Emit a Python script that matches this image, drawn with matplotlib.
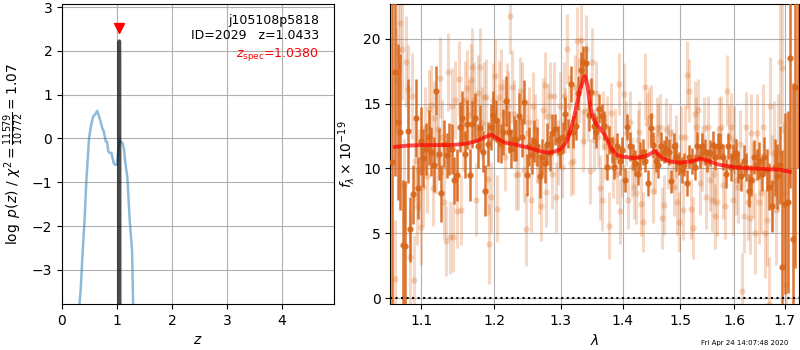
import numpy as np
import matplotlib
matplotlib.use('Agg')
import matplotlib.pyplot as plt
from matplotlib.ticker import FixedLocator, ScalarFormatter, NullLocator

# photo-z probability, log p(z)
pz_z = [0.31, 0.34, 0.38, 0.414, 0.444, 0.493, 0.53, 0.566, 0.61, 0.64, 0.67, 0.70,
        0.73, 0.76, 0.797, 0.82, 0.84, 0.87, 0.90, 0.94, 0.97, 1.00, 1.03, 1.05,
        1.065, 1.10, 1.127, 1.152, 1.19, 1.234, 1.262, 1.276, 1.295, 1.31]
pz_logp = [-3.9, -3.45, -2.5, -1.78, -0.94, 0.01, 0.3, 0.50, 0.56, 0.63, 0.52, 0.40,
           0.25, 0.16, -0.07, -0.07, -0.29, -0.33, -0.33, -0.56, -0.60, -0.60, -0.2, -0.05,
           -0.07, -0.10, -0.23, -0.55, -0.9, -1.9, -2.35, -2.6, -3.8, -5.0]

# grism redshift fit, narrow peak
zgr_z = [1.036, 1.040, 1.0433, 1.047, 1.051]
zgr_logp = [-6.0, 1.9, 2.22, 1.9, -6.0]

z_spec = 1.0380
z_best = 1.0433
obj_id = 2029
root = 'j105108p5818'
chi2_num, chi2_den = 11579, 10772

# binned spectrum, deep extraction (flux, err in 1e-19)
dark_flux = [10.5, 17.4, 13.6, 12.8, 4.1, 4.0, 12.9, 5.3, 8.0, 13.9,
             8.5, 12.1, 10.8, 11.5, 12.4, 11.3, 10.3, 16.0, 11.1, 8.1,
             11.9, 11.0, 11.5, 11.5, 9.1, 9.5, 13.2, 13.9, 11.1, 13.4, 9.5,
             13.4, 13.9, 11.7, 13.1, 11.3, 8.3, 11.9, 13.2, 14.1, 13.7,
             12.2, 11.9, 12.8, 15.2, 12.8, 11.5, 12.3, 12.2, 14.0, 12.4,
             15.1, 9.5, 11.7, 11.0, 12.1, 11.7, 9.4, 10.9, 10.4, 11.9, 11.2, 12.7,
             13.0, 12.2, 11.3, 12.4, 14.2, 12.7, 16.5, 12.8, 13.3, 15.8,
             17.6, 18.2, 18.1, 14.1, 15.9, 13.3, 12.8, 14.6, 14.0, 13.3,
             10.1, 12.2, 11.4, 10.1, 11.7, 10.6, 11.4, 9.1, 13.2, 11.7, 10.9,
             10.4, 9.6, 10.9, 11.3, 10.6, 8.9, 13.1, 11.8, 10.6, 10.3,
             11.7, 11.3, 11.5, 11.3, 9.0, 11.7, 10.9, 10.4, 9.9, 10.3,
             8.9, 10.9, 10.6, 10.1, 11.7, 10.9, 11.7, 11.3, 10.6, 11.2, 11.8, 10.9, 11.7,
             11.7, 10.9, 9.6, 11.7, 10.1, 10.9, 11.2, 10.1, 9.4, 10.6,
             10.1, 8.3, 9.1, 10.9, 10.3, 10.6, 9.6, 10.9, 9.9, 8.6,
             7.1, 10.1, 9.4, 10.3, 2.4, 7.3, 7.4, 18.5, 4.6, 16.3, 24.0]
dark_err = [14, 8, 6, 6, 5, 5, 4, 2.5, 2.3, 3.0,
            2.4, 2.6, 2.2, 2.0, 2.1, 1.9, 2.1, 1.9, 2.0, 2.2,
            1.8, 1.7, 2.0, 1.9, 1.8, 2.0, 1.9, 2.1, 1.8, 1.9, 2.0,
            1.8, 1.9, 1.7, 1.8, 1.6, 2.0, 1.7, 1.8, 1.9, 1.6,
            1.7, 1.5, 1.8, 1.9, 1.6, 1.5, 1.7, 1.6, 1.8, 1.5,
            1.7, 1.6, 1.5, 1.4, 1.6, 1.5, 1.7, 1.4, 1.5, 1.6, 1.4, 1.5,
            1.2, 1.1, 1.3, 1.2, 1.3, 1.1, 1.4, 1.2, 1.1, 1.3,
            1.4, 1.2, 1.3, 1.2, 1.1, 1.0, 1.2, 1.1, 1.0, 1.1,
            1.0, 1.1, 1.0, 0.9, 1.0, 1.1, 1.0, 0.9, 1.0, 1.1, 1.0,
            1.0, 0.9, 1.1, 1.0, 0.9, 1.0, 1.2, 1.0, 0.9, 1.0,
            1.1, 0.9, 1.0, 1.0, 0.9, 1.0, 1.1, 0.9, 1.0, 0.9,
            1.0, 0.9, 1.0, 1.0, 1.1, 0.9, 1.0, 1.0, 0.9, 1.0, 1.1, 1.0, 1.0,
            1.0, 1.0, 1.1, 1.0, 1.1, 1.0, 1.1, 1.2, 1.1, 1.2,
            1.1, 1.3, 1.2, 1.3, 1.2, 1.4, 1.3, 1.5, 1.6, 1.8,
            2.0, 2.2, 2.5, 3.0, 9.0, 7.0, 7.0, 10.0, 12.0, 14.0, 14.0]
dark_range = (1.0625, 1.7266)

# individual exposures
light_flux = [1.5, 16.8, 19.1, 21.2, 19.2, 8.7, 18.2, 16.1, 3.2, 15.6,
              1.4, 10.6, 7.1, 9.9, 5.5, 8.6, 13.1, 9.4, 14.6, 14.9,
              8.5, 13.9, 11.0, 13.0, 17.0, 12.4, 7.4, 4.4, 17.4, 4.7,
              14.8, 4.7, 15.3, 6.7, 16.9, 6.8, 12.6, 15.3, 16.2, 14.1,
              16.8, 17.8, 15.3, 7.6,
              15.8, 17.8, 13.5, 15.5, 15.5, 9.2, 4.2, 7.8, 15.3, 17.1,
              6.9, 15.5, 16.3, 14.2, 10.9, 15.3, 14.8, 21.7, 16.3, 14.2,
              9.5, 9.6, 16.0, 15.5, 9.9, 5.3, 12.7, 13.6, 7.6, 14.8,
              13.0, 11.4, 9.1, 7.1, 14.5, 16.4, 8.2, 14.0, 15.6, 9.6,
              15.6, 7.8, 11.2, 14.8, 10.1, 15.6, 13.7, 19.2, 14.8, 10.4,
              10.6, 16.3, 19.8, 16.0, 19.9, 12.1, 14.4, 19.2, 14.5, 9.8,
              18.2, 12.2, 15.8, 12.4, 8.5, 7.6, 13.7, 11.7, 13.2, 5.6,
              14.3, 10.1, 12.1, 9.6, 16.5, 6.7, 10.1, 15.7, 12.7, 7.6,
              13.6, 10.1, 8.6, 8.1, 12.2, 12.8, 7.3, 5.9, 16.3, 13.5,
              13.9, 14.0, 8.3, 10.3, 13.1, 12.7, 13.2, 6.2, 7.2, 13.0,
              10.9, 12.7, 10.6, 8.6, 11.7, 7.4, 5.9, 12.4, 6.8, 12.4,
              17.2, 16.0, 6.9, 5.4, 14.2, 13.2, 14.5, 8.9, 10.6, 13.1,
              7.8, 13.2,
              9.1, 7.6, 9.6, 6.3, 7.4, 13.0, 13.2, 8.7, 7.1, 16.0,
              12.4, 13.2, 7.6, 12.2, 9.1, 8.6, 11.9, 0.6, 6.3, 13.2,
              7.4, 6.2, 12.7, 9.1, 5.0, 12.7, 7.4, 8.1, 13.2, 5.0,
              6.0, -0.4, 14.8, 8.9, 11.2, 6.8, 11.2, 18.2, 17.7, 8.1, 1.0]
light_err = [4.5, 4.0, 4.2, 3.8, 3.9, 3.6, 3.5, 3.4, 3.6, 3.3,
             3.5, 3.2, 3.0, 3.1, 2.9, 3.0, 3.2, 2.8, 3.0, 3.1,
             2.9, 2.8, 3.0, 2.7, 3.1, 2.9, 2.8, 2.7, 3.0, 2.8,
             2.9, 2.7, 3.0, 2.8, 2.9, 2.7, 2.8, 3.0, 2.9, 2.7,
             2.8, 3.0, 2.9, 2.8,
             2.9, 3.0, 2.8, 2.7, 2.9, 2.8, 3.1, 2.7, 2.8, 2.9,
             2.6, 2.8, 2.9, 2.7, 2.6, 2.8, 2.7, 2.9, 2.8, 2.6,
             2.7, 2.8, 2.6, 2.7, 2.5, 2.8, 2.6, 2.7, 2.5, 2.6,
             2.7, 2.5, 2.6, 2.7, 2.5, 2.6, 2.7, 2.5, 2.6, 2.7,
             2.6, 2.7, 2.5, 2.6, 2.4, 2.6, 2.5, 2.7, 2.4, 2.5,
             2.6, 2.4, 2.6, 2.5, 2.7, 2.4, 2.5, 2.6, 2.4, 2.5,
             2.6, 2.4, 2.5, 2.3, 2.5, 2.4, 2.3, 2.5, 2.4, 2.6,
             2.3, 2.4, 2.5, 2.3, 2.4, 2.5, 2.3, 2.4, 2.5, 2.3,
             2.4, 2.3, 2.5, 2.4, 2.3, 2.4, 2.5, 2.3, 2.6, 2.4,
             2.3, 2.4, 2.5, 2.3, 2.4, 2.3, 2.5, 2.4, 2.3, 2.4,
             2.5, 2.3, 2.4, 2.3, 2.4, 2.5, 2.3, 2.4, 2.3, 2.5,
             2.6, 2.4, 2.3, 2.4, 2.5, 2.3, 2.4, 2.5, 2.3, 2.4,
             2.5, 2.4,
             2.4, 2.5, 2.4, 2.5, 2.6, 2.5, 2.4, 2.6, 2.5, 2.7,
             2.5, 2.6, 2.7, 2.6, 2.7, 2.8, 2.6, 2.9, 2.8, 2.7,
             2.9, 2.8, 3.0, 2.9, 3.1, 3.0, 3.2, 3.1, 3.3, 3.4,
             3.5, 3.6, 3.8, 3.7, 4.0, 4.2, 4.5, 4.8, 5.0, 5.5, 6.0]
light_range = (1.0653, 1.7016)

# best-fit template
model_wave = [1.066, 1.08, 1.10, 1.12, 1.14, 1.16, 1.175, 1.185, 1.196, 1.205,
              1.215, 1.23, 1.25, 1.27, 1.28, 1.29, 1.30, 1.305, 1.31, 1.315,
              1.32, 1.325, 1.33, 1.335, 1.338, 1.342, 1.346, 1.35, 1.355, 1.36,
              1.37, 1.38, 1.39, 1.40, 1.42, 1.44, 1.45, 1.455, 1.46, 1.47,
              1.48, 1.50, 1.52, 1.536, 1.55, 1.57, 1.60, 1.63, 1.66, 1.69, 1.71]
model_flux = [11.66, 11.75, 11.8, 11.8, 11.8, 11.9, 12.1, 12.35, 12.6, 12.3,
              12.0, 11.85, 11.6, 11.3, 11.2, 11.3, 11.5, 11.8, 12.2, 12.9,
              13.8, 14.9, 16.0, 16.8, 17.1, 16.4, 15.0, 14.0, 13.5, 13.2,
              12.6, 11.6, 11.05, 10.9, 10.8, 10.95, 11.2, 11.35, 11.1, 10.75,
              10.55, 10.45, 10.55, 10.75, 10.6, 10.3, 10.1, 10.0, 9.95, 9.9, 9.74]

wave_ticks = [1.1, 1.2, 1.3, 1.4, 1.5, 1.6, 1.7]
stamp = 'Fri Apr 24 14:07:48 2020'

# pixel grids (log-uniform sampling)
dark_wave = np.geomspace(dark_range[0], dark_range[1], len(dark_flux))
light_wave = np.geomspace(light_range[0], light_range[1], len(light_flux))

fig = plt.figure(figsize=(8, 3.5), dpi=100)
ax1 = fig.add_axes([0.0775, 0.131, 0.34, 0.859])
ax2 = fig.add_axes([0.488, 0.131, 0.511, 0.859])

# --- p(z) panel
ax1.plot(pz_z, pz_logp, color='tab:blue', alpha=0.5, lw=1.8)
ax1.plot(zgr_z, zgr_logp, color='k', alpha=0.7, lw=2.6)
ax1.plot(z_spec, 2.52, marker='v', color='r', ms=7, ls='none')
ax1.set_xlim(0, 4.95)
ax1.set_ylim(-3.78, 3.08)
ax1.set_xticks([0, 1, 2, 3, 4])
ax1.set_yticks([-3, -2, -1, 0, 1, 2, 3])
ax1.grid()
ax1.set_xlabel('$z$')
ax1.set_ylabel(r'$\log\ p(z)$' + ' / ' +
               r'$\chi^2=\frac{{{0}}}{{{1}}}={2:.2f}$'.format(chi2_num, chi2_den,
                                                               chi2_num / chi2_den))
ax1.text(0.945, 0.945, root, ha='right', va='center', transform=ax1.transAxes, fontsize=9)
ax1.text(0.945, 0.893, 'ID={0}   z={1:.4f}'.format(obj_id, z_best), ha='right', va='center',
         transform=ax1.transAxes, fontsize=9)
ax1.text(0.945, 0.830, r'$z_\mathrm{spec}$' + '={0:.4f}'.format(z_spec), ha='right',
         va='center', transform=ax1.transAxes, fontsize=9, color='r')

# --- spectrum panel
orange = '#d8661a'
ax2.errorbar(light_wave, light_flux, yerr=light_err, fmt='o', color=orange, alpha=0.25,
             ms=4.5, mec='none', elinewidth=2.2, capsize=0, zorder=2)
ax2.errorbar(dark_wave, dark_flux, yerr=dark_err, fmt='o', color=orange, alpha=0.9,
             ms=4.5, mec='none', elinewidth=1.8, capsize=0, zorder=3)
ax2.plot(model_wave, model_flux, color='r', alpha=0.7, lw=2.8, zorder=4)
ax2.axhline(0, color='k', ls=':', lw=1.5, zorder=5)

ax2.set_xscale('log')
ax2.set_xlim(1.06, 1.7294)
ax2.set_ylim(-0.45, 22.7)
ax2.xaxis.set_major_locator(FixedLocator(wave_ticks))
fmt = ScalarFormatter()
fmt.set_scientific(False)
ax2.xaxis.set_major_formatter(fmt)
ax2.xaxis.set_minor_locator(NullLocator())
ax2.set_yticks([0, 5, 10, 15, 20])
ax2.grid()
ax2.set_xlabel(r'$\lambda$')
ax2.set_ylabel(r'$f_\lambda\times10^{-19}$')

fig.text(0.985, 0.02, stamp, ha='right', va='center', fontsize=5)

fig.savefig('out.png', dpi=100)
